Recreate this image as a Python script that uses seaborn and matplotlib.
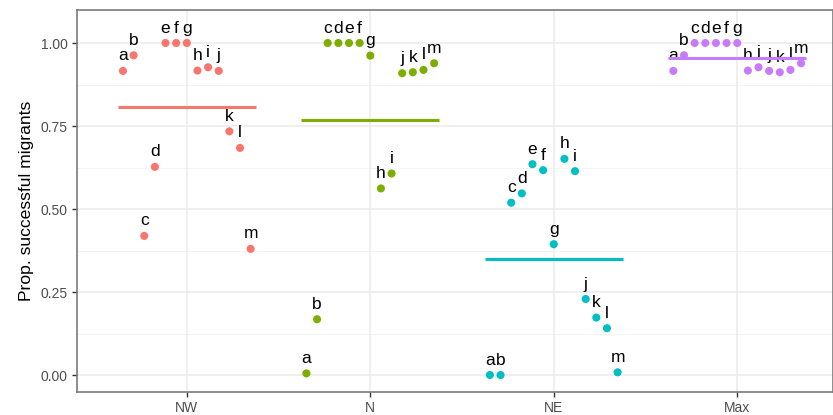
"""
plot.py - proportion of successful migrants per site, by source region
"""

import numpy as np
import pandas as pd
import matplotlib
matplotlib.use("Agg")
import matplotlib.pyplot as plt
import seaborn as sns

# -- Data ----------------------------------------------------------------------
sites   = list("abcdefghijklm")
regions = ["NW", "N", "NE", "Max"]

prop_nw  = [0.916, 0.963, 0.419, 0.627, 1.000, 1.000, 1.000, 0.917, 0.927, 0.916, 0.734, 0.684, 0.380]
prop_n   = [0.005, 0.168, 1.000, 1.000, 1.000, 1.000, 0.962, 0.562, 0.607, 0.909, 0.912, 0.919, 0.939]
prop_ne  = [0.000, 0.000, 0.519, 0.547, 0.635, 0.617, 0.394, 0.651, 0.614, 0.229, 0.173, 0.141, 0.008]
prop_max = [0.916, 0.963, 1.000, 1.000, 1.000, 1.000, 1.000, 0.917, 0.927, 0.916, 0.912, 0.919, 0.939]

palette = {"NW": "#F8766D", "N": "#7CAE00", "NE": "#00BFC4", "Max": "#C77CFF"}

# -- Long table + dodge positions ------------------------------------------------
df = pd.DataFrame({
    "region": np.repeat(regions, len(sites)),
    "site":   sites * len(regions),
    "prop":   prop_nw + prop_n + prop_ne + prop_max,
})
DODGE = 0.754
step  = DODGE / len(sites)
df["xpos"] = (df["region"].map({r: i for i, r in enumerate(regions)})
              + (df["site"].map({s: i for i, s in enumerate(sites)}) - (len(sites) - 1) / 2) * step)

# -- Plot --------------------------------------------------------------------------
sns.set_theme(style="white")
plt.rcParams["font.family"] = ["Liberation Sans", "DejaVu Sans"]

fig = plt.figure(figsize=(8.33, 4.15), dpi=100)
ax = fig.add_axes([0.0921, 0.0561, 0.9079, 0.9198])

# grid (theme_bw look)
for y in [0.125, 0.375, 0.625, 0.875]:
    ax.axhline(y, color="#F2F2F2", lw=0.6, zorder=0)
for y in [0, 0.25, 0.5, 0.75, 1.0]:
    ax.axhline(y, color="#EBEBEB", lw=1.1, zorder=0)
for x in range(len(regions)):
    ax.axvline(x, color="#EBEBEB", lw=1.1, zorder=0)

sns.scatterplot(data=df, x="xpos", y="prop", hue="region", palette=palette,
                s=34, linewidth=0, legend=False, ax=ax, zorder=3)

for _, r in df.iterrows():
    ax.text(r["xpos"], r["prop"] + 0.045, r["site"], ha="center", va="center",
            fontsize=12.5, color="black", zorder=4)

means = df.groupby("region", sort=False)["prop"].mean()
for i, reg in enumerate(regions):
    ax.hlines(means[reg], i - DODGE / 2, i + DODGE / 2, color=palette[reg],
              lw=2.2, zorder=5)

ax.set_xlim(-0.6, 3.522)
ax.set_ylim(-0.0503, 1.0994)
ax.set_xticks(range(len(regions)), regions)
ax.set_yticks([0, 0.25, 0.5, 0.75, 1.0], ["0.00", "0.25", "0.50", "0.75", "1.00"])
ax.set_xlabel("")
ax.set_ylabel("Prop. successful migrants", fontsize=12.6, color="black", labelpad=5)
ax.tick_params(axis="both", length=3.5, width=1, color="#333333",
               labelsize=10, labelcolor="#4D4D4D", pad=3, bottom=True, left=True)
for sp in ax.spines.values():
    sp.set_color("#7A7A7A")
    sp.set_linewidth(1.2)

fig.savefig("out.png", dpi=100)
